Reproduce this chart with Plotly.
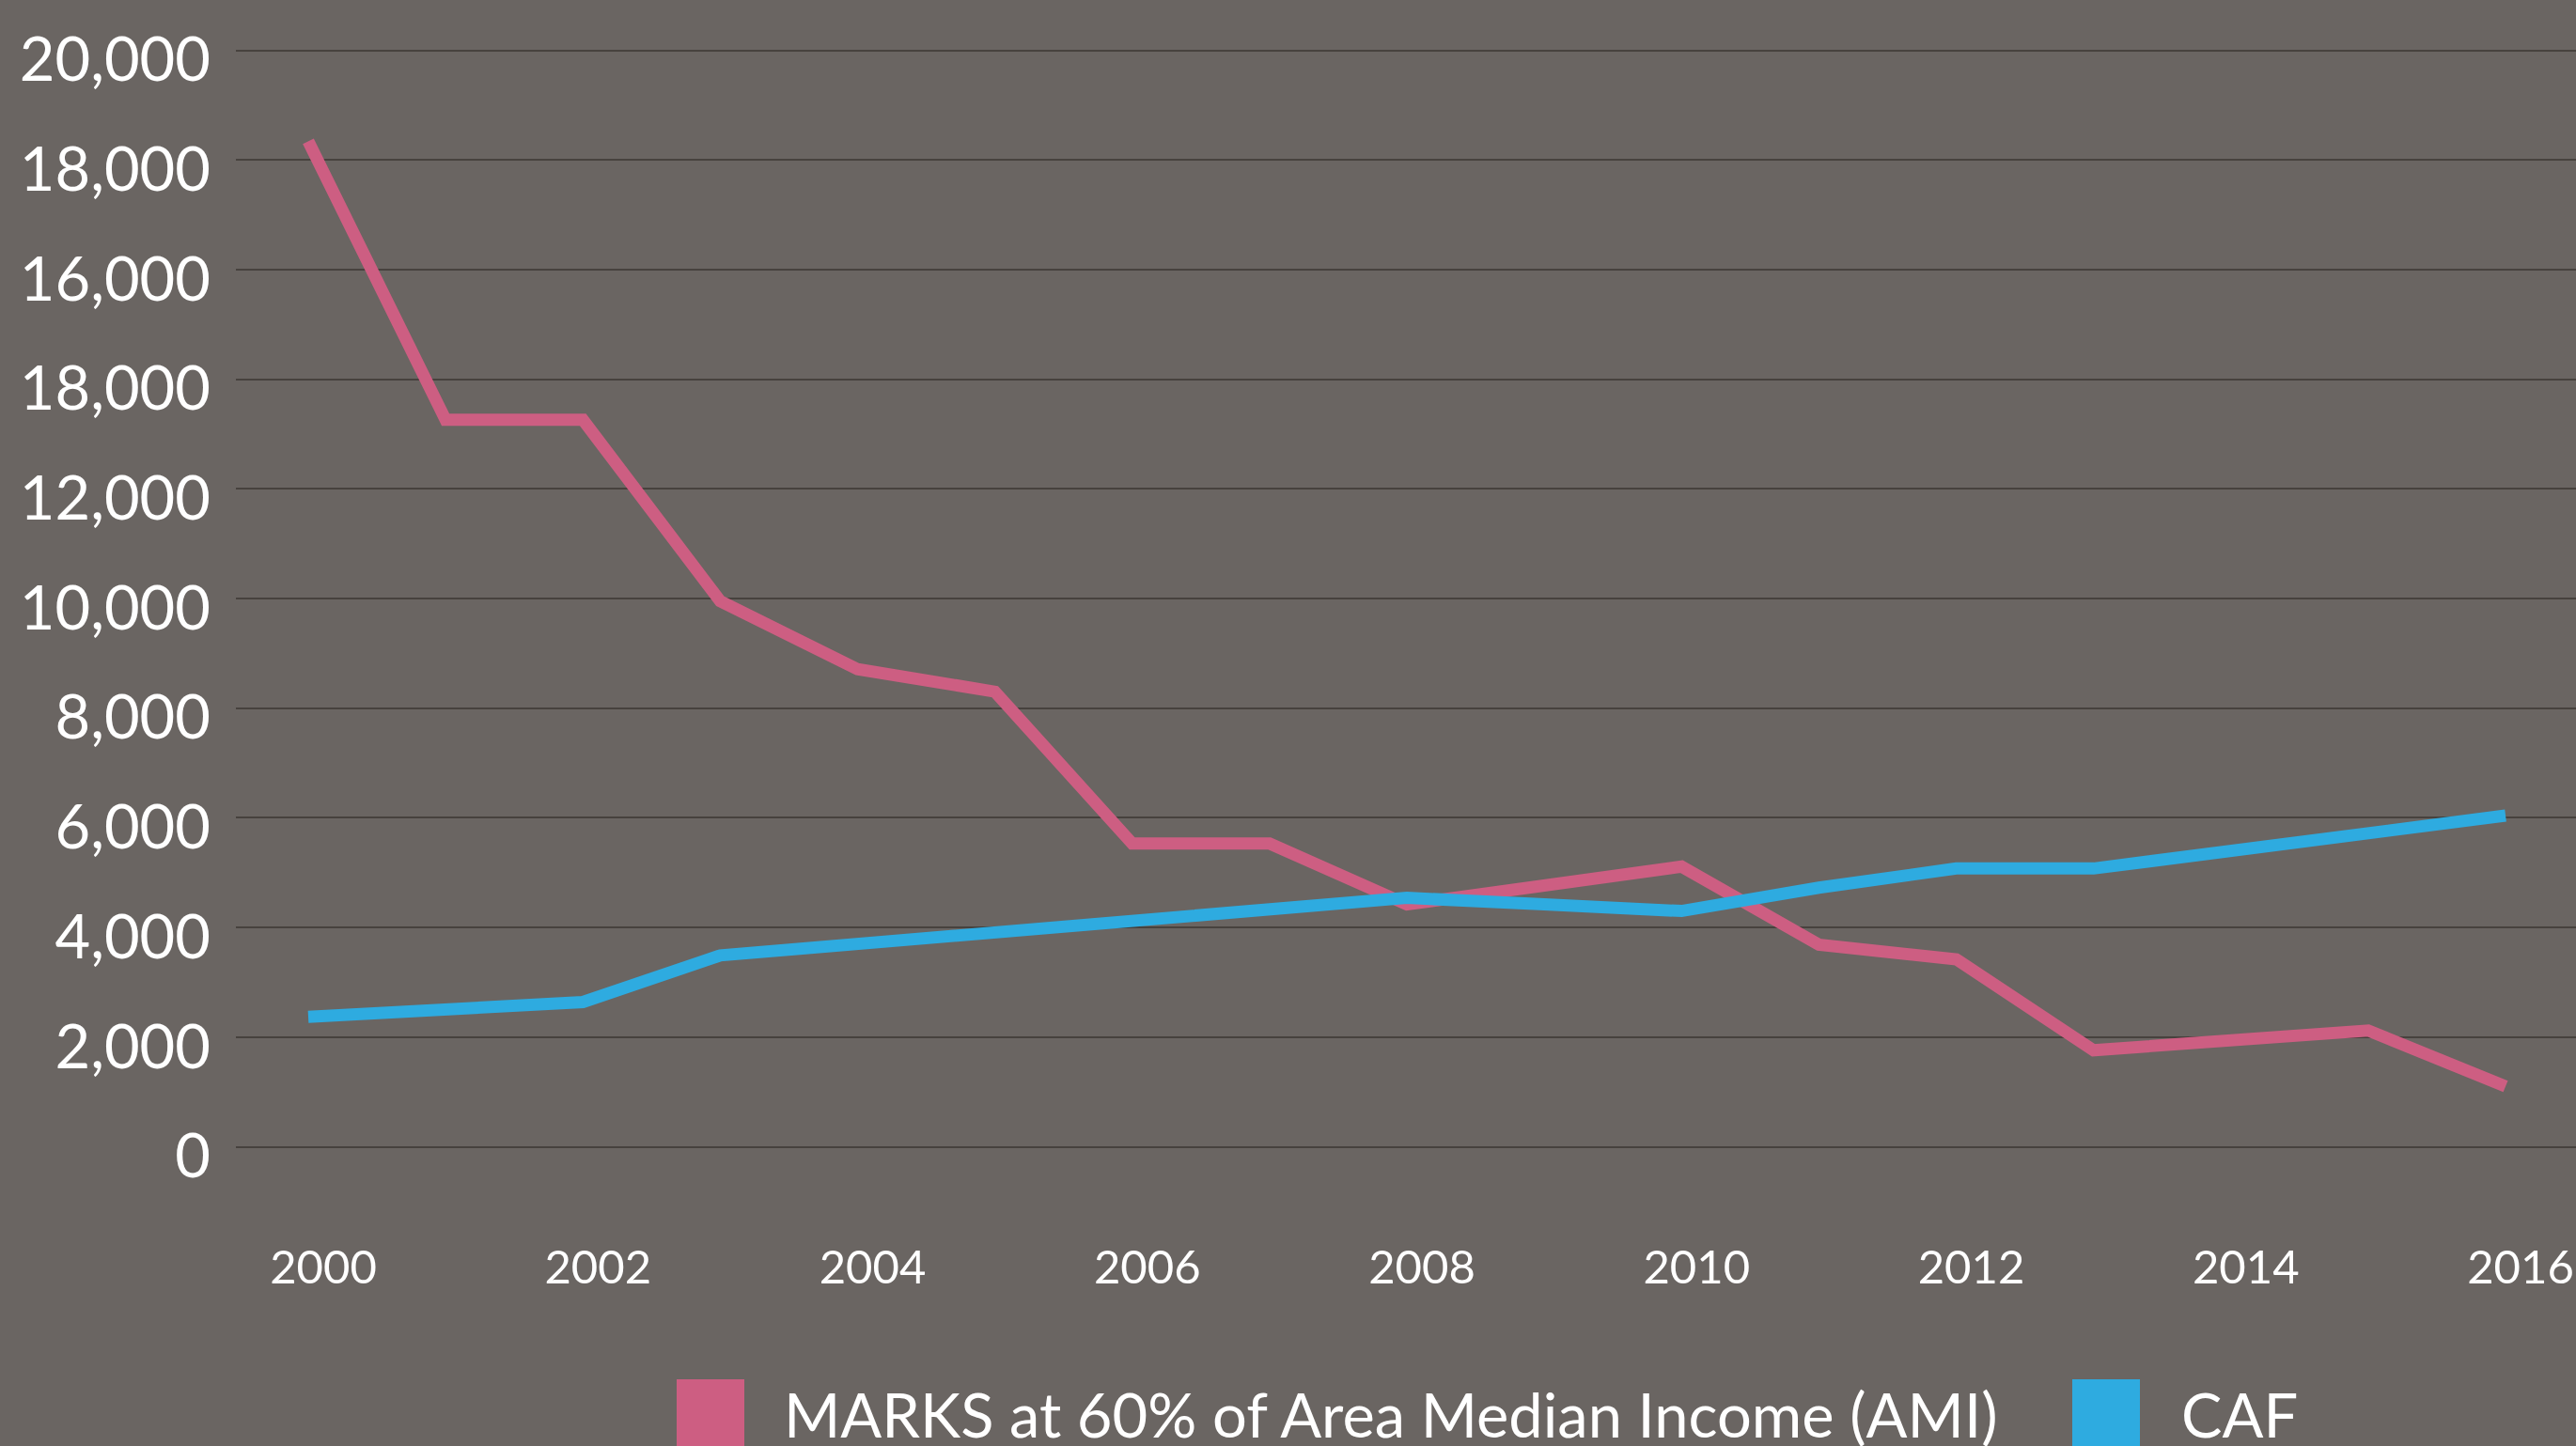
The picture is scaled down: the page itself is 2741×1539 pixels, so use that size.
import plotly.graph_objects as go

years = list(range(2000, 2017))

marks_ami = [18340, 13260, 13260, 9950, 8710, 8300, 5530, 5530, 4420,
             4765, 5110, 3685, 3420, 1760, 1940, 2120, 1100]
caf = [2370, 2505, 2640, 3490, 3700, 3910, 4120, 4330, 4540,
       4420, 4300, 4725, 5075, 5075, 5400, 5720, 6040]

series_names = ['MARKS at 60% of Area Median Income (AMI)', 'CAF']
series_colors = ['#cd5e82', '#2eabe0']

y_tickvals = [0, 2000, 4000, 6000, 8000, 10000, 12000, 14000, 16000, 18000, 20000]
# the source image labels the 14,000 line as "18,000"; kept as drawn
y_ticktext = ['0', '2,000', '4,000', '6,000', '8,000', '10,000', '12,000',
              '18,000', '16,000', '18,000', '20,000']
x_tickvals = list(range(2000, 2017, 2))

W, H = 2741, 1539
ML, MR, MT, MB = 251, 0, 36, 301
PW, PH = W - ML - MR, H - MT - MB
BG = '#6a6562'


def px_x(x):
    return (x - ML) / PW


def px_y(y):
    return (H - MB - y) / PH


fig = go.Figure()
for name, values, color in zip(series_names, [marks_ami, caf], series_colors):
    fig.add_trace(
        go.Scatter(name=name,
                   x=years,
                   y=values,
                   mode='lines',
                   line=dict(color=color, width=13),
                   showlegend=False)
    )

# legend drawn by hand: big square swatches at the bottom
legend_pos = [(720, 832), (2205, 2319)]
for (sx, tx), name, color in zip(legend_pos, series_names, series_colors):
    fig.add_shape(type='rect', xref='paper', yref='paper',
                  x0=px_x(sx), x1=px_x(sx + 72), y0=px_y(1468), y1=px_y(1580),
                  fillcolor=color, line_width=0)
    fig.add_annotation(text=name, xref='paper', yref='paper',
                       x=px_x(tx), y=px_y(1505), xanchor='left', yanchor='middle',
                       showarrow=False, font=dict(size=65, color='white'))

fig.update_layout(
    width=W, height=H,
    margin=dict(l=ML, r=MR, t=MT, b=MB, pad=0),
    paper_bgcolor=BG,
    plot_bgcolor=BG,
    font=dict(family='Lato', color='white'),
    showlegend=False,
)
fig.update_xaxes(
    range=[1999.473, 2016.513],
    tickvals=x_tickvals,
    ticktext=[str(v) for v in x_tickvals],
    showgrid=False, zeroline=False, showline=False, ticks='',
    tickfont=dict(size=49, color='white'),
    ticklabelstandoff=78, ticklabelshift=16,
    ticklabeloverflow='allow',
)
fig.update_yaxes(
    range=[-300, 20300],
    tickvals=y_tickvals,
    ticktext=y_ticktext,
    showgrid=True, gridcolor='#47423e', gridwidth=2,
    zeroline=False, showline=False, ticks='',
    tickfont=dict(size=65, color='white'),
    ticklabelstandoff=26, ticklabelshift=10,
)

# drop the page's default body margin so the chart fills the window
fig.write_html("out.html",
               config={'displayModeBar': False},
               post_script="document.body.style.margin='0';"
                           "document.body.style.background='" + BG + "';")
